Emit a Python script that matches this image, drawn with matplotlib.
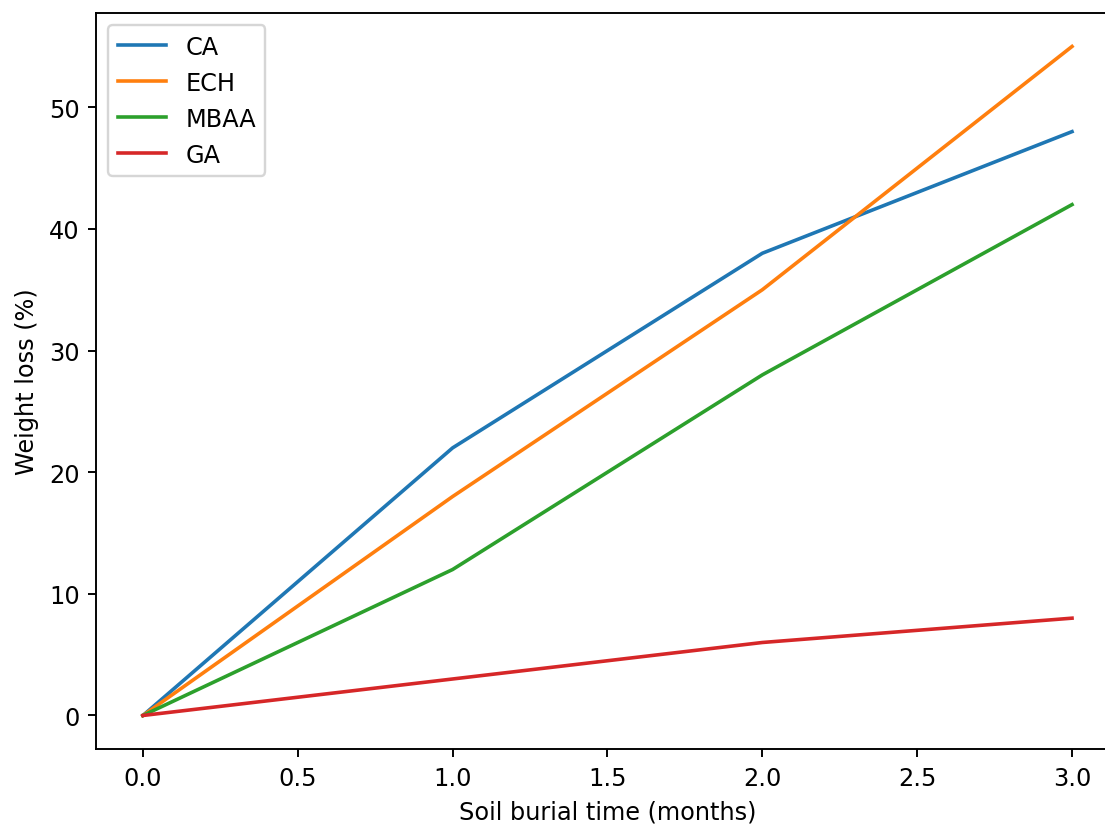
import matplotlib
matplotlib.use("Agg")
import matplotlib.pyplot as plt

# soil burial data
months = [0, 1, 2, 3]
ca = [0, 22, 38, 48]
ech = [0, 18, 35, 55]
mbaa = [0, 12, 28, 42]
ga = [0, 3, 6, 8]

dpi = 172.6
fig, ax = plt.subplots(figsize=(1105 / dpi, 825 / dpi), dpi=dpi)
# the reference is cropped on the right, so the axes run past the edge
fig.subplots_adjust(left=0.0873, right=1.0122, top=0.983, bottom=0.091)

ax.plot(months, ca, label='CA')
ax.plot(months, ech, label='ECH')
ax.plot(months, mbaa, label='MBAA')
ax.plot(months, ga, label='GA')

ax.set_xlabel('Soil burial time (months)')
ax.set_ylabel('Weight loss (%)')
ax.legend(loc='upper left')

fig.savefig('out.png', dpi=dpi)
